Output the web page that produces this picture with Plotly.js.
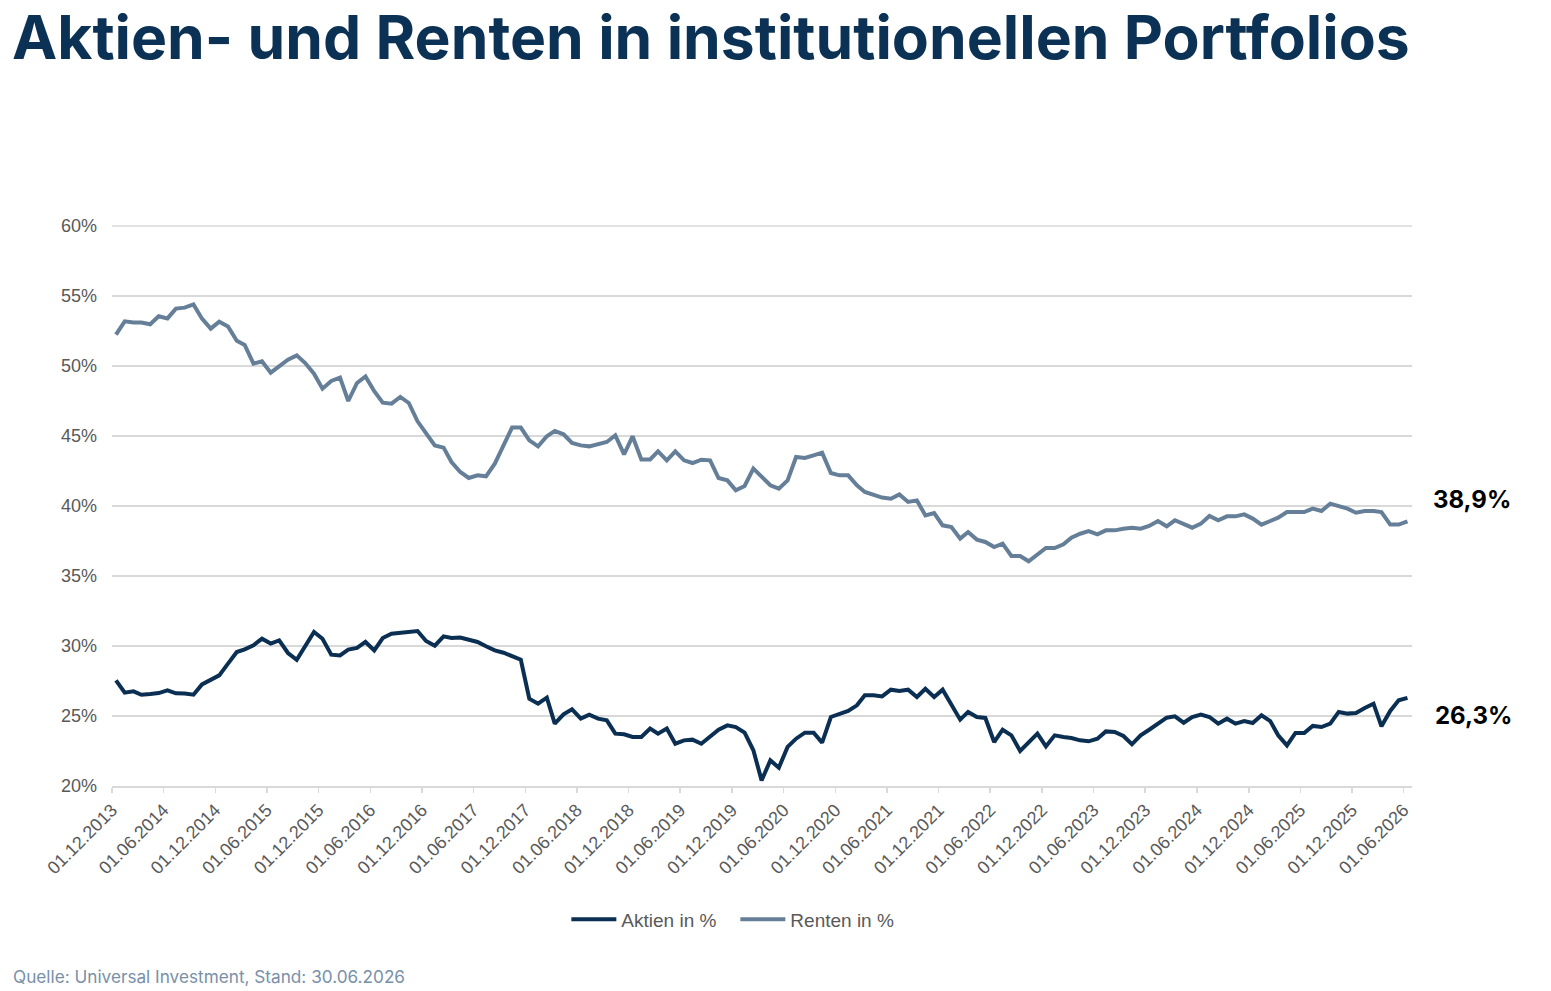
<!DOCTYPE html>
<html>
<head>
<meta charset="utf-8">
<script src="https://cdn.plot.ly/plotly-3.0.1.min.js"></script>
<style>
html, body { margin: 0; padding: 0; background: #ffffff; }
#chart { width: 1551px; height: 991px; }
</style>
</head>
<body>
<div id="chart"></div>
<script>
// Monthly series, first observation December 2013, last June 2026
const startYear = 2013;
const startMonth = 12;

const aktien = [
  27.55, 26.67, 26.76, 26.52, 26.57, 26.64, 26.83, 26.62, 26.60, 26.52,
  27.26, 27.55, 27.90, 28.74, 29.57, 29.76, 30.05, 30.52, 30.17, 30.40,
  29.50, 29.02, 30.05, 31.00, 30.52, 29.38, 29.33, 29.74, 29.86, 30.29,
  29.69, 30.57, 30.88, 30.95, 31.07, 31.07, 30.36, 30.02, 30.69, 30.57,
  30.60, 30.48, 30.29, 29.98, 29.69, 29.52, 29.29, 29.02, 26.24, 25.88,
  26.31, 24.45, 25.12, 25.48, 24.81, 25.10, 24.81, 24.69, 23.74, 23.69,
  23.50, 23.50, 24.10, 23.74, 24.10, 23.02, 23.26, 23.31, 23.02, 23.50,
  24.02, 24.33, 24.21, 23.81, 22.55, 20.40, 21.83, 21.31, 22.79, 23.38,
  23.81, 23.81, 23.10, 24.93, 25.17, 25.36, 25.76, 26.48, 26.48, 26.40,
  26.88, 26.79, 26.88, 26.36, 26.95, 26.36, 26.88, 25.76, 24.74, 25.29,
  24.93, 24.86, 23.14, 24.02, 23.62, 22.50, 23.14, 23.74, 22.83, 23.62,
  23.50, 23.43, 23.26, 23.19, 23.38, 23.90, 23.86, 23.57, 22.98, 23.62,
  24.02, 24.45, 24.88, 24.98, 24.52, 24.93, 25.10, 24.93, 24.45, 24.81,
  24.45, 24.64, 24.50, 25.05, 24.64, 23.62, 22.90, 23.79, 23.79, 24.29,
  24.21, 24.45, 25.29, 25.17, 25.21, 25.57, 25.88, 24.26, 25.36, 26.12,
  26.30
];

const renten = [
  52.24, 53.19, 53.10, 53.10, 52.98, 53.55, 53.40, 54.10, 54.17, 54.40,
  53.38, 52.67, 53.17, 52.83, 51.80, 51.50, 50.17, 50.33, 49.52, 49.98,
  50.45, 50.76, 50.21, 49.45, 48.38, 48.93, 49.17, 47.50, 48.79, 49.26,
  48.20, 47.38, 47.31, 47.79, 47.36, 46.05, 45.17, 44.33, 44.17, 43.14,
  42.43, 42.00, 42.19, 42.12, 43.02, 44.33, 45.60, 45.60, 44.69, 44.26,
  44.98, 45.36, 45.12, 44.50, 44.33, 44.26, 44.40, 44.57, 45.05, 43.69,
  44.98, 43.33, 43.33, 43.90, 43.26, 43.90, 43.26, 43.07, 43.31, 43.26,
  42.00, 41.83, 41.12, 41.43, 42.67, 42.07, 41.48, 41.24, 41.83, 43.50,
  43.43, 43.62, 43.81, 42.36, 42.19, 42.19, 41.48, 41.00, 40.76, 40.60,
  40.52, 40.83, 40.29, 40.40, 39.33, 39.50, 38.62, 38.50, 37.67, 38.14,
  37.60, 37.43, 37.07, 37.31, 36.43, 36.43, 36.05, 36.55, 37.00, 37.00,
  37.26, 37.74, 38.02, 38.21, 37.98, 38.26, 38.26, 38.38, 38.45, 38.38,
  38.57, 38.93, 38.55, 38.98, 38.74, 38.45, 38.74, 39.29, 38.98, 39.26,
  39.26, 39.40, 39.10, 38.67, 38.93, 39.17, 39.57, 39.57, 39.57, 39.81,
  39.64, 40.17, 40.00, 39.81, 39.52, 39.64, 39.64, 39.57, 38.67, 38.67,
  38.90
];

const tickLabels = [
  "01.12.2013", "01.06.2014", "01.12.2014", "01.06.2015", "01.12.2015",
  "01.06.2016", "01.12.2016", "01.06.2017", "01.12.2017", "01.06.2018",
  "01.12.2018", "01.06.2019", "01.12.2019", "01.06.2020", "01.12.2020",
  "01.06.2021", "01.12.2021", "01.06.2022", "01.12.2022", "01.06.2023",
  "01.12.2023", "01.06.2024", "01.12.2024", "01.06.2025", "01.12.2025",
  "01.06.2026"
];

const yTicks = [20, 25, 30, 35, 40, 45, 50, 55, 60];
const yTickLabels = ["20%", "25%", "30%", "35%", "40%", "45%", "50%", "55%", "60%"];

const seriesNames = ["Aktien in %", "Renten in %"];
const titleText = "Aktien- und Renten in institutionellen Portfolios";
const sourceText = "Quelle: Universal Investment, Stand: 30.06.2026";

function pad(n) { return (n < 10 ? "0" : "") + n; }
function monthDate(i, day) {
  const m0 = (startMonth - 1) + i;
  const y = startYear + Math.floor(m0 / 12);
  const m = (m0 % 12) + 1;
  return y + "-" + pad(m) + "-" + pad(day);
}
const xDates = aktien.map((_, i) => monthDate(i, 15));
const tickVals = tickLabels.map(t => {
  const p = t.split(".");
  return p[2] + "-" + p[1] + "-" + p[0];
});
function fmt(v) { return v.toFixed(1).replace(".", ",") + "%"; }

const traces = [
  {
    x: xDates, y: aktien, name: seriesNames[0], type: "scatter", mode: "lines",
    line: { color: "#0b2f52", width: 4 }
  },
  {
    x: xDates, y: renten, name: seriesNames[1], type: "scatter", mode: "lines",
    line: { color: "#667f98", width: 4 }
  }
];

const layout = {
  width: 1551, height: 991,
  paper_bgcolor: "#ffffff", plot_bgcolor: "#ffffff",
  margin: { l: 112, r: 139, t: 226, b: 205 },
  showlegend: true,
  hovermode: false,
  title: {
    text: titleText,
    font: { family: "Inter", size: 60.6, color: "#0b3154", weight: 700 },
    x: 12 / 1551, xref: "container", xanchor: "left",
    y: 1 - 37.5 / 991, yref: "container", yanchor: "middle"
  },
  xaxis: {
    type: "date",
    range: ["2013-12-01", "2026-07-01"],
    tickmode: "array", tickvals: tickVals, ticktext: tickLabels,
    tickangle: -45,
    tickfont: { family: "Liberation Sans", size: 18, color: "#595959" },
    showgrid: false, zeroline: false,
    showline: true, linecolor: "#d9d9d9", linewidth: 1.5,
    ticks: "outside", ticklen: 5, tickcolor: "#d9d9d9", tickwidth: 1.5
  },
  yaxis: {
    range: [20, 60],
    tickmode: "array", tickvals: yTicks, ticktext: yTickLabels,
    tickfont: { family: "Liberation Sans", size: 18, color: "#595959" },
    showgrid: true, gridcolor: "#d9d9d9", gridwidth: 1.5,
    zeroline: false, showline: false, ticks: "",
    ticklabelstandoff: 14
  },
  shapes: [
    {
      // top gridline at the upper end of the y range (60%)
      type: "line", xref: "paper", x0: 0, x1: 1, yref: "paper", y0: 1, y1: 1,
      line: { color: "#d9d9d9", width: 1.5 }, layer: "below"
    }
  ],
  legend: {
    orientation: "h", x: 0.4795, xanchor: "center", xref: "paper",
    y: -0.238, yanchor: "middle",
    font: { family: "Liberation Sans", size: 19, color: "#595959" },
    itemwidth: 45, traceorder: "normal",
    entrywidth: 109
  },
  annotations: [
    {
      text: fmt(renten[renten.length - 1]),
      xref: "paper", yref: "paper", x: (1472 - 112) / 1300, y: (786 - 499) / 560,
      xanchor: "center", yanchor: "middle", showarrow: false,
      font: { family: "Inter", size: 24, color: "#000000", weight: 700 }
    },
    {
      text: fmt(aktien[aktien.length - 1]),
      xref: "paper", yref: "paper", x: (1473 - 112) / 1300, y: (786 - 715) / 560,
      xanchor: "center", yanchor: "middle", showarrow: false,
      font: { family: "Inter", size: 24, color: "#000000", weight: 700 }
    },
    {
      text: sourceText,
      xref: "paper", yref: "paper", x: (11 - 112) / 1300, y: (786 - 976) / 560,
      xanchor: "left", yanchor: "middle", showarrow: false,
      font: { family: "Inter", size: 17.2, color: "#7890a8" }
    }
  ]
};

Plotly.newPlot("chart", traces, layout, { displayModeBar: false, staticPlot: true });
</script>
</body>
</html>
